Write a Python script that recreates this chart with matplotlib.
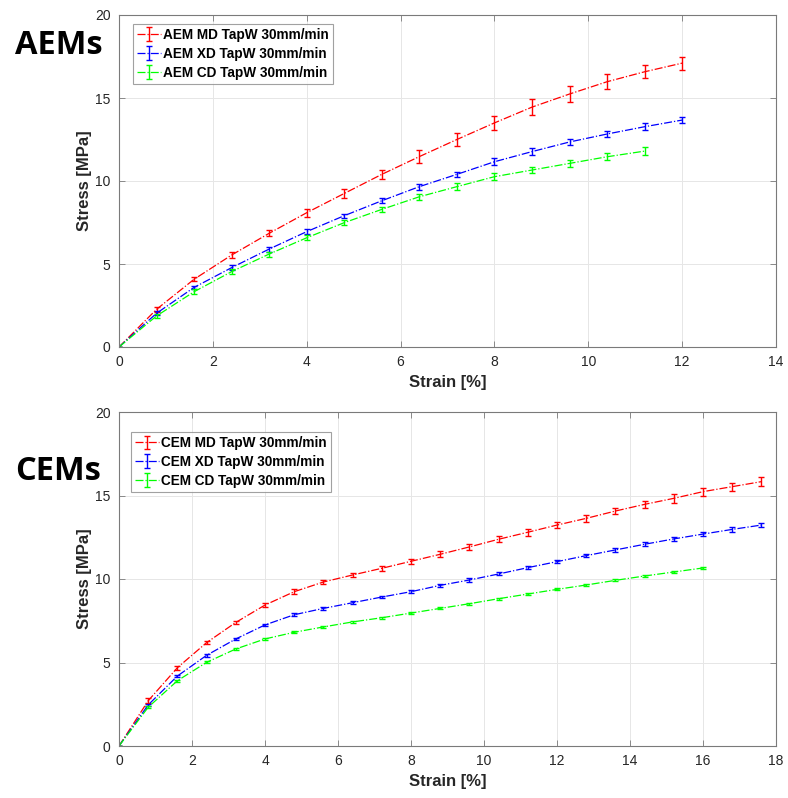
import matplotlib
matplotlib.use("Agg")
import matplotlib.pyplot as plt

# ---- AEM data (strain %, stress MPa, std) ----
aem_strain = [0, 0.8, 1.6, 2.4, 3.2, 4.0, 4.8, 5.6, 6.4, 7.2, 8.0, 8.8, 9.6, 10.4, 11.2, 12.0]
aem_md = [0, 2.27, 4.08, 5.54, 6.85, 8.09, 9.25, 10.4, 11.47, 12.5, 13.5, 14.45, 15.24, 15.98, 16.58, 17.1]
aem_md_err = [0, 0.14, 0.13, 0.17, 0.18, 0.23, 0.28, 0.28, 0.37, 0.42, 0.44, 0.48, 0.48, 0.44, 0.40, 0.40]
aem_xd = [0, 2.03, 3.59, 4.78, 5.9, 6.95, 7.91, 8.81, 9.66, 10.4, 11.16, 11.77, 12.35, 12.83, 13.27, 13.67]
aem_xd_err = [0, 0.11, 0.11, 0.14, 0.15, 0.14, 0.13, 0.14, 0.18, 0.17, 0.22, 0.20, 0.20, 0.20, 0.20, 0.20]
aem_cd_strain = aem_strain[:-1]
aem_cd = [0, 1.87, 3.33, 4.54, 5.6, 6.58, 7.49, 8.29, 9.05, 9.66, 10.26, 10.66, 11.06, 11.46, 11.8]
aem_cd_err = [0, 0.13, 0.14, 0.14, 0.15, 0.16, 0.17, 0.17, 0.19, 0.20, 0.22, 0.20, 0.20, 0.20, 0.22]

# ---- CEM data ----
cem_strain = [0, 0.8, 1.6, 2.4, 3.2, 4.0, 4.8, 5.6, 6.4, 7.2, 8.0, 8.8, 9.6, 10.4, 11.2,
              12.0, 12.8, 13.6, 14.4, 15.2, 16.0, 16.8, 17.6]
cem_md = [0, 2.71, 4.69, 6.19, 7.4, 8.44, 9.24, 9.82, 10.24, 10.64, 11.06, 11.48, 11.92, 12.38, 12.8,
          13.23, 13.63, 14.07, 14.47, 14.83, 15.23, 15.53, 15.83]
cem_md_err = [0, 0.15, 0.12, 0.10, 0.10, 0.12, 0.14, 0.12, 0.14, 0.15, 0.16, 0.17, 0.19, 0.18, 0.20,
              0.20, 0.20, 0.20, 0.20, 0.26, 0.23, 0.24, 0.26]
cem_xd = [0, 2.46, 4.19, 5.43, 6.41, 7.25, 7.86, 8.24, 8.58, 8.92, 9.24, 9.62, 9.94, 10.3, 10.68,
          11.04, 11.4, 11.74, 12.08, 12.4, 12.69, 12.97, 13.23]
cem_xd_err = [0, 0.08, 0.08, 0.08, 0.08, 0.08, 0.08, 0.08, 0.08, 0.08, 0.09, 0.09, 0.09, 0.09, 0.10,
              0.10, 0.10, 0.11, 0.11, 0.12, 0.12, 0.13, 0.14]
cem_cd_strain = cem_strain[:21]
cem_cd = [0, 2.32, 3.91, 5.01, 5.81, 6.41, 6.81, 7.13, 7.43, 7.68, 7.96, 8.24, 8.52, 8.82, 9.1,
          9.38, 9.64, 9.92, 10.18, 10.42, 10.66]
cem_cd_err = [0, 0.06, 0.06, 0.06, 0.06, 0.06, 0.06, 0.06, 0.06, 0.06, 0.06, 0.06, 0.06, 0.06, 0.06,
              0.06, 0.06, 0.06, 0.06, 0.06, 0.07]

AEM_LABELS = ["AEM MD TapW 30mm/min", "AEM XD TapW 30mm/min", "AEM CD TapW 30mm/min"]
CEM_LABELS = ["CEM MD TapW 30mm/min", "CEM XD TapW 30mm/min", "CEM CD TapW 30mm/min"]
COLORS = ["#ff0000", "#0000ff", "#00ff00"]

plt.rcParams["font.family"] = ["Liberation Sans", "DejaVu Sans"]
TXT = "#262626"

fig = plt.figure(figsize=(7.88, 7.98), dpi=100)
ax1 = fig.add_axes([119 / 788, 1 - 347 / 798, 657 / 788, 332 / 798])
ax2 = fig.add_axes([119 / 788, 1 - 746 / 798, 657 / 788, 334 / 798])


def draw(ax, series, labels, xmax, xticks, leg_anchor):
    for (x, y, e), lab, c in zip(series, labels, COLORS):
        ax.errorbar(x, y, yerr=e, fmt="-.", color=c, lw=0.9, elinewidth=1.0,
                    capsize=2.2, capthick=1.0, label=lab)
    ax.set_xlim(0, xmax)
    ax.set_ylim(0, 20)
    ax.set_xticks(xticks)
    ax.set_yticks([0, 5, 10, 15, 20])
    ax.grid(True, color="#e6e6e6", lw=0.7)
    ax.set_axisbelow(True)
    for s in ax.spines.values():
        s.set_color("#7a7a7a")
        s.set_linewidth(0.8)
    ax.tick_params(direction="in", top=True, right=True, length=4, width=0.6,
                   color="#7a7a7a", labelsize=10, labelcolor=TXT, pad=6)
    ax.set_xlabel("Strain [%]", fontsize=12, fontweight="bold", color=TXT, labelpad=4)
    ax.set_ylabel("Stress [MPa]", fontsize=12, fontweight="bold", color=TXT, labelpad=2)
    leg = ax.legend(loc="upper left", bbox_to_anchor=leg_anchor, borderaxespad=0,
                    prop={"weight": "bold", "size": 9.8}, frameon=True, fancybox=False,
                    edgecolor="#8a8a8a", handlelength=1.8, handletextpad=0.15,
                    labelspacing=0.35, borderpad=0.3)
    leg.get_frame().set_linewidth(0.8)


draw(ax1,
     [(aem_strain, aem_md, aem_md_err), (aem_strain, aem_xd, aem_xd_err),
      (aem_cd_strain, aem_cd, aem_cd_err)],
     AEM_LABELS, 14, range(0, 15, 2), (0.021, 0.973))
draw(ax2,
     [(cem_strain, cem_md, cem_md_err), (cem_strain, cem_xd, cem_xd_err),
      (cem_cd_strain, cem_cd, cem_cd_err)],
     CEM_LABELS, 18, range(0, 19, 2), (0.018, 0.94))

fig.text(15 / 788, 1 - 45 / 798, "AEMs", fontsize=23.5, fontweight="bold",
         family=["Open Sans", "DejaVu Sans"], va="center", ha="left", color="black")
fig.text(15 / 788, 1 - 472 / 798, "CEMs", fontsize=23.5, fontweight="bold",
         family=["Open Sans", "DejaVu Sans"], va="center", ha="left", color="black")

fig.savefig("out.png", dpi=100)
